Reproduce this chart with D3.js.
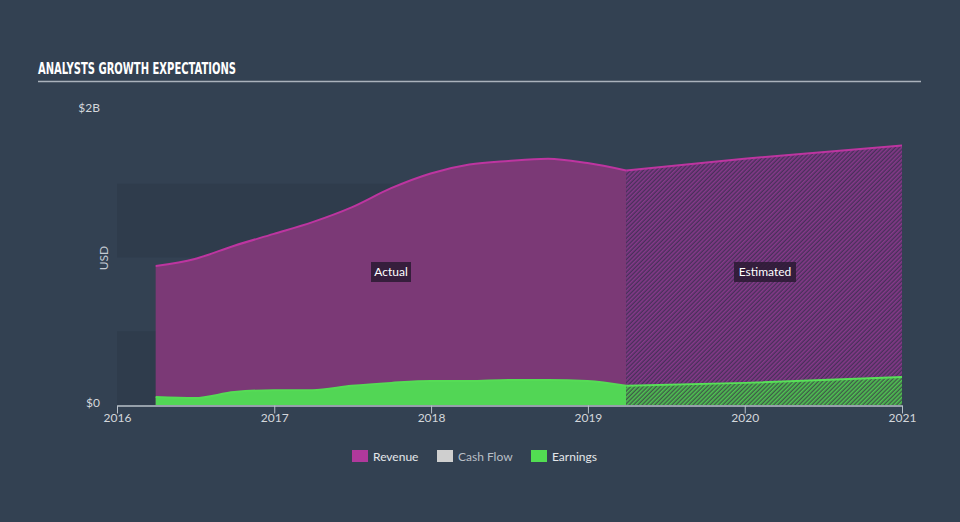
<!DOCTYPE html>
<html><head><meta charset="utf-8">
<script src="https://cdn.jsdelivr.net/npm/d3@7/dist/d3.min.js"></script>
<style>
html,body{margin:0;padding:0;background:#334152;}
svg{display:block;}
</style></head>
<body>
<svg id="c" width="960" height="522"></svg>
<script>
// ---- data ----
const actualDates = ["2016-03-31","2016-06-30","2016-09-30","2016-12-31","2017-03-31","2017-06-30","2017-09-30","2017-12-31","2018-03-31","2018-06-30","2018-09-30","2018-12-31","2019-03-31"];
const actualRevenue = [0.942,0.99,1.08,1.16,1.24,1.34,1.47,1.57,1.63,1.655,1.67,1.64,1.59]; // $B
const actualEarnings = [0.054,0.047,0.088,0.10,0.10,0.13,0.15,0.163,0.163,0.17,0.17,0.163,0.13]; // $B
const estDates = ["2019-03-31","2019-12-31","2020-12-31"];
const estRevenue = [1.59,1.67,1.76];
const estEarnings = [0.13,0.15,0.19];
const xTickYears = [2016,2017,2018,2019,2020,2021];
const yTickValues = [0,2];
const yTickLabels = ["$0","$2B"];
const bandEdges = [0,0.5,1,1.5];
const legendItems = ["Revenue","Cash Flow","Earnings"];
const legendColors = ["#b0399c","#cfcfcf","#52dd52"];

// ---- chart ----
const svg = d3.select("#c");
const W = 960, H = 522;
const parse = d3.utcParse("%Y-%m-%d");
const x = d3.scaleUtc().domain([new Date(Date.UTC(2016,0,1)), new Date(Date.UTC(2021,0,1))]).range([117, 902]);
const y = d3.scaleLinear().domain([0, 2]).range([405, 110]);

svg.append("rect").attr("width",W).attr("height",H).attr("fill","#334152");

// title
svg.append("text").attr("x",38).attr("y",74).text("ANALYSTS GROWTH EXPECTATIONS")
  .attr("fill","#ffffff").attr("font-family","'DejaVu Sans Condensed','DejaVu Sans',sans-serif")
  .attr("font-weight","bold").attr("font-size",16).attr("textLength",198).attr("lengthAdjust","spacingAndGlyphs");
svg.append("line").attr("x1",38).attr("x2",921).attr("y1",81.5).attr("y2",81.5).attr("stroke","#aab2bc").attr("stroke-width",1.5);

// bands
bandEdges.forEach((b,i)=>{
  if(i%2===0){
    svg.append("rect").attr("x",x.range()[0]).attr("width",x.range()[1]-x.range()[0])
      .attr("y",y(b+0.5)).attr("height",y(b)-y(b+0.5)).attr("fill","#2f3c4c");
  }
});

// patterns
const defs = svg.append("defs");
function hatch(id, bg, fg){
  const p = defs.append("pattern").attr("id",id).attr("patternUnits","userSpaceOnUse")
    .attr("width",3).attr("height",3).attr("patternTransform","rotate(45)");
  p.append("rect").attr("width",3).attr("height",3).attr("fill",bg);
  p.append("rect").attr("width",1.6).attr("height",3).attr("fill",fg);
}
hatch("hr","#48305a","#86398a");
hatch("hg","#3f5a48","#4fc452");

const A = actualDates.map((d,i)=>({d:parse(d),r:actualRevenue[i],e:actualEarnings[i]}));
const E = estDates.map((d,i)=>({d:parse(d),r:estRevenue[i],e:estEarnings[i]}));
E[E.length-1].d = x.domain()[1];

const curve = d3.curveMonotoneX;
const areaR = d3.area().x(d=>x(d.d)).y0(y(0)).y1(d=>y(d.r)).curve(curve);
const areaE = d3.area().x(d=>x(d.d)).y0(y(0)).y1(d=>y(d.e)).curve(curve);
const lineR = d3.line().x(d=>x(d.d)).y(d=>y(d.r)).curve(curve);
const lineE = d3.line().x(d=>x(d.d)).y(d=>y(d.e)).curve(curve);

svg.append("path").datum(A).attr("d",areaR).attr("fill","#7b3976");
svg.append("path").datum(E).attr("d",areaR).attr("fill","url(#hr)");
svg.append("path").datum(A).attr("d",lineR).attr("fill","none").attr("stroke","#bd35a0").attr("stroke-width",2);
svg.append("path").datum(E).attr("d",lineR).attr("fill","none").attr("stroke","#bd35a0").attr("stroke-width",2);

svg.append("path").datum(A).attr("d",areaE).attr("fill","#52d655");
svg.append("path").datum(E).attr("d",areaE).attr("fill","url(#hg)");
svg.append("path").datum(A).attr("d",lineE).attr("fill","none").attr("stroke","#55dc55").attr("stroke-width",2);
svg.append("path").datum(E).attr("d",lineE).attr("fill","none").attr("stroke","#58e058").attr("stroke-width",2);

// labels Actual / Estimated
function tag(cx, txt, w){
  const g = svg.append("g");
  g.append("rect").attr("x",cx-w/2).attr("y",262).attr("width",w).attr("height",20).attr("fill","#2a1a33").attr("opacity",0.85);
  g.append("text").attr("x",cx).attr("y",276).attr("text-anchor","middle").text(txt)
    .attr("fill","#ffffff").attr("font-family","Lato, 'Open Sans', sans-serif").attr("font-size",12);
}
tag(391, "Actual", 40);
tag(765, "Estimated", 62);

// x axis
const xAxis = d3.axisBottom(x).tickValues(xTickYears.map(yy=>new Date(Date.UTC(yy,0,1))))
  .tickFormat(d3.utcFormat("%Y")).tickSize(8).tickSizeOuter(0);
const gx = svg.append("g").attr("transform","translate(0,405.5)").call(xAxis);
gx.select(".domain").attr("stroke","#b8c0c9").attr("stroke-width",1.5);
gx.selectAll(".tick line").attr("stroke","#b8c0c9").attr("stroke-width",1);
gx.selectAll(".tick text").attr("fill","#d3d7dc").attr("font-size",12).attr("dy","0.95em")
  .attr("font-family","Lato, 'Open Sans', sans-serif").attr("y",5);

// y axis labels
const yAxis = d3.axisLeft(y).tickValues(yTickValues).tickFormat((d,i)=>yTickLabels[i]).tickSize(0);
const gy = svg.append("g").attr("transform","translate(103,0)").call(yAxis);
gy.select(".domain").remove();
gy.selectAll(".tick text").attr("fill","#d3d7dc").attr("font-size",12).attr("font-family","Lato, 'Open Sans', sans-serif").attr("dy","0.1em");

svg.append("text").attr("transform","translate(108,258) rotate(-90)").attr("text-anchor","middle")
  .text("USD").attr("fill","#c5cbd2").attr("font-size",12).attr("font-family","Lato, 'Open Sans', sans-serif");

// legend
const lx = [352, 437, 531];
legendItems.forEach((t,i)=>{
  svg.append("rect").attr("x",lx[i]).attr("y",450).attr("width",16).attr("height",12).attr("fill",legendColors[i]);
  svg.append("text").attr("x",lx[i]+21).attr("y",460.5).text(t)
    .attr("fill", i===1 ? "#b9bfc6" : "#e4e7ea").attr("font-size",12)
    .attr("font-family","Lato, 'Open Sans', sans-serif");
});
</script>
</body></html>
